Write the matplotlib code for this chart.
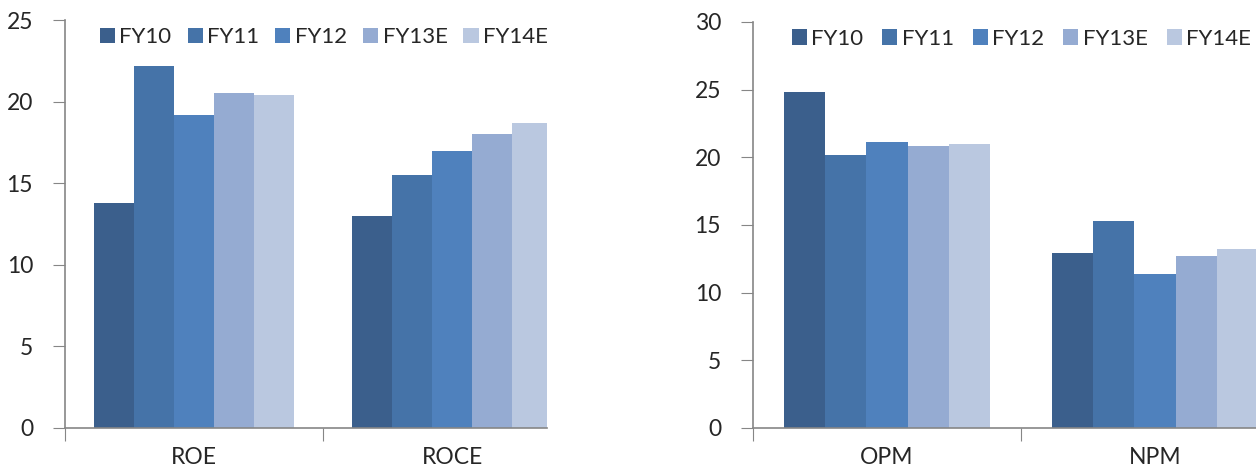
import numpy as np
import matplotlib.pyplot as plt

plt.rcParams['font.family'] = ['Lato', 'DejaVu Sans']

years = ['FY10', 'FY11', 'FY12', 'FY13E', 'FY14E']
colors = ['#3B5F8C', '#4573A8', '#4F81BD', '#95ABD2', '#BAC8E0']

ret_metrics = ['ROE', 'ROCE']
roe = [13.8, 22.2, 19.2, 20.5, 20.4]
roce = [13.0, 15.5, 17.0, 18.0, 18.7]

margin_metrics = ['OPM', 'NPM']
opm = [24.8, 20.2, 21.1, 20.8, 21.0]
npm = [12.9, 15.3, 11.4, 12.7, 13.2]

axis_grey = '#868686'
text_col = '#262626'


def draw_panel(ax, cats, series, ymax, xmax, leg_x, colsp):
    bw = 0.1543
    centers = np.arange(len(cats)) + 0.5
    for j, yr in enumerate(years):
        vals = [s[j] for s in series]
        ax.bar(centers + (j - 2) * bw, vals, width=bw, color=colors[j],
               label=yr, linewidth=0)
    ax.set_yticks(np.arange(0, ymax + 1, 5))
    ax.set_xticks(np.arange(len(cats) + 1))
    ax.set_xticklabels([])
    ax.set_xticks(centers, minor=True)
    ax.set_xticklabels(cats, minor=True)
    # limits after ticks, otherwise set_xticks widens the view
    ax.set_xlim(0, xmax)
    ax.set_ylim(0, ymax)
    ax.tick_params(axis='x', which='major', length=9, color=axis_grey, direction='out')
    ax.tick_params(axis='x', which='minor', length=0, pad=14, labelsize=16.5, labelcolor=text_col)
    ax.tick_params(axis='y', length=9, color=axis_grey, direction='out',
                   labelsize=16.5, labelcolor=text_col, pad=14)
    for side in ['top', 'right']:
        ax.spines[side].set_visible(False)
    for side in ['left', 'bottom']:
        ax.spines[side].set_color(axis_grey)
        ax.spines[side].set_linewidth(1.2)
    ax.spines['left'].set_bounds(0, ymax)
    ax.legend(loc='upper left', bbox_to_anchor=(leg_x, 1.005), ncol=5, frameon=False,
              fontsize=16, handlelength=0.68, handleheight=0.68, handletextpad=0.2,
              columnspacing=colsp, labelcolor=text_col, borderaxespad=0.0)


fig = plt.figure(figsize=(12.56, 4.73), dpi=100)
ax1 = fig.add_axes([65 / 1256, 0.0955, 482 / 1256, 0.862])
ax2 = fig.add_axes([753 / 1256, 0.0955, 503 / 1256, 0.858])

draw_panel(ax1, ret_metrics, [roe, roce], 25, 482 / 258, 0.054, 0.72)
draw_panel(ax2, margin_metrics, [opm, npm], 30, 503 / 268, 0.059, 0.85)

fig.savefig('out.png', dpi=100)
